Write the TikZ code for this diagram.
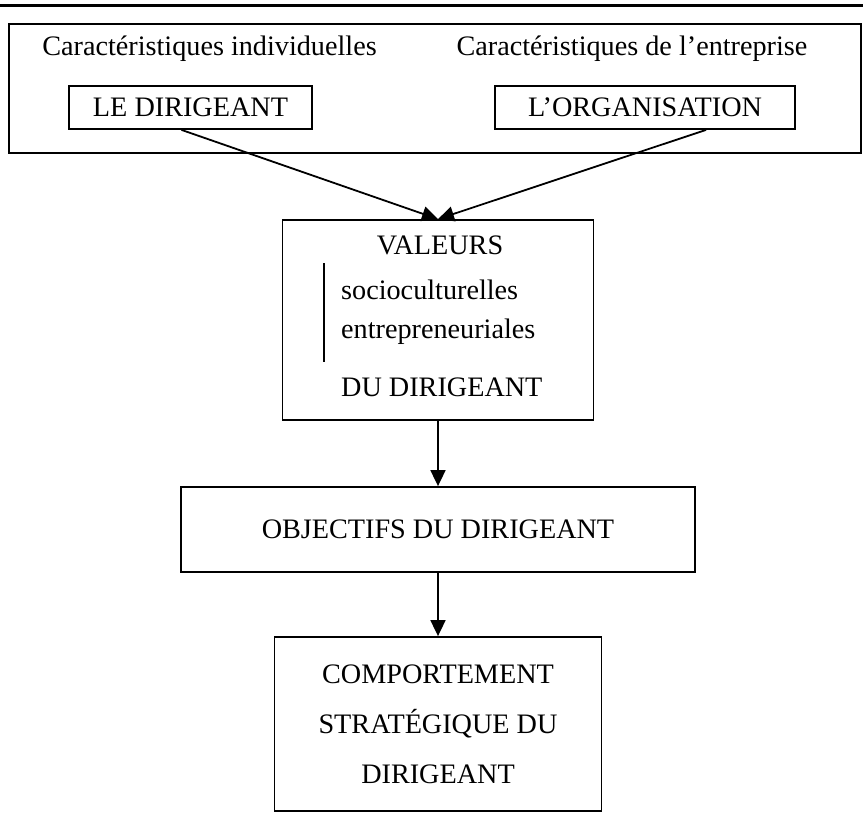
\documentclass[tikz,border=0pt]{standalone}
\usepackage{fontspec}
\setmainfont{Liberation Serif}
\usetikzlibrary{arrows.meta,positioning}

\begin{document}
\begin{tikzpicture}[x=1pt, y=-1pt, >={Triangle[length=16pt, width=15pt]},
    every node/.style={font=\fontsize{28.2}{34}\selectfont},
    block/.style={draw, line width=1.8pt, inner sep=0pt, align=center},
    txt/.style={inner sep=0pt, anchor=west},]
    \useasboundingbox (0,0) rectangle (863,828);
    \draw[line width=3pt] (0,5) -- (863,5);
    \node[block, minimum width=852pt, minimum height=129pt] (cadre) at (435,88.5) {};
    \node (indiv) at (209.5,49) {Caractéristiques individuelles};
    \node (entr) at (632,49) {Caractéristiques de l’entreprise};
    \node[block, minimum width=243pt, minimum height=43pt] (dirigeant) at (190.5,107.5) {LE DIRIGEANT};
    \node[block, minimum width=300pt, minimum height=43pt] (organisation) at (645,107.5) {L’ORGANISATION};
    \node[block, minimum width=311pt, minimum height=200pt] (valeurs) at (438,320) {};
    \node (valtxt) at (440,245) {VALEURS};
    \node[txt] (socio) at (341,290) {socioculturelles};
    \node[txt] (entre) at (341,332) {entrepreneuriales};
    \node[txt] (dudir) at (341,387) {DU DIRIGEANT};
    \draw[line width=1.5pt] (324,263) -- (324,362);
    \node[block, below of=valeurs, node distance=209.5pt, minimum width=514pt, minimum height=85pt] (objectifs) {OBJECTIFS DU DIRIGEANT};
    \node[block, below of=objectifs, node distance=194.5pt, minimum width=327pt, minimum height=174pt,
        font=\fontsize{28.2}{50}\selectfont] (comportement) {COMPORTEMENT\\STRATÉGIQUE DU\\DIRIGEANT};
    \draw[->, line width=1.8pt] ([xshift=-9pt]dirigeant.south) -- (valeurs.north);
    \draw[->, line width=1.8pt] ([xshift=61pt]organisation.south) -- (valeurs.north);
    \draw[->, line width=1.8pt] (valeurs) -- (objectifs);
    \draw[->, line width=1.8pt] (objectifs) -- (comportement);
  \end{tikzpicture}
\end{document}
